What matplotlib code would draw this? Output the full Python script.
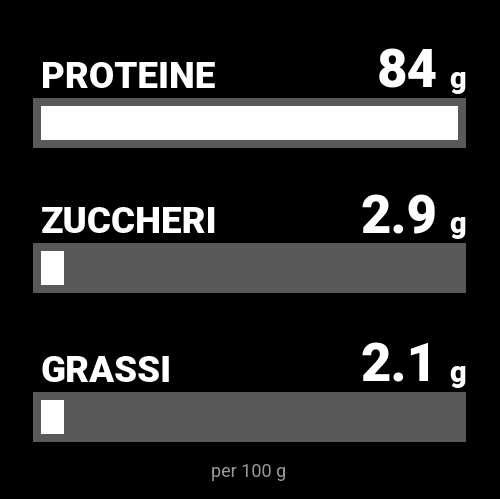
import numpy as np
import matplotlib.pyplot as plt

# valori nutrizionali per 100 g
labels = ["PROTEINE", "ZUCCHERI", "GRASSI"]
values = [84, 2.9, 2.1]
value_text = ["84", "2.9", "2.1"]
unit = "g"
note = "per 100 g"

W, H = 500, 499
fig = plt.figure(figsize=(W / 100, H / 100), dpi=100, facecolor="black")

font = "Roboto"
track_color = "#595959"

vmax = max(values)
min_show = 0.055 * vmax  # barra minima visibile
pad = 8 / 416 * vmax

# posizioni in pixel (top della traccia, baseline testo)
track_top = [98, 243, 392]
track_h = 50
baselines = [88, 233, 382]


def px(x, y):
    return x / W, 1 - y / H


for i, (lab, v, vt) in enumerate(zip(labels, values, value_text)):
    left, bottom = 33 / W, 1 - (track_top[i] + track_h) / H
    ax = fig.add_axes([left, bottom, 433 / W, track_h / H])
    ax.set_facecolor(track_color)
    ax.barh(0, max(v, min_show), height=34 / track_h, color="white", left=0)
    ax.set_xlim(-pad, vmax + pad)
    ax.set_ylim(-0.5, 0.5)
    ax.set_xticks([])
    ax.set_yticks([])
    for s in ax.spines.values():
        s.set_visible(False)

    fig.text(*px(41, baselines[i]), lab, color="white", fontsize=26.5,
             fontweight="heavy", family=font, ha="left", va="baseline")
    fig.text(*px(438, baselines[i]), vt, color="white", fontsize=38,
             fontweight="heavy", family=font, ha="right", va="baseline")
    fig.text(*px(466, baselines[i]), unit, color="white", fontsize=21,
             fontweight="heavy", family=font, ha="right", va="baseline")

fig.text(*px(249, 477), note, color="#9a9a9a", fontsize=13,
         family=font, ha="center", va="baseline")

fig.savefig("out.png", dpi=100, facecolor="black")
